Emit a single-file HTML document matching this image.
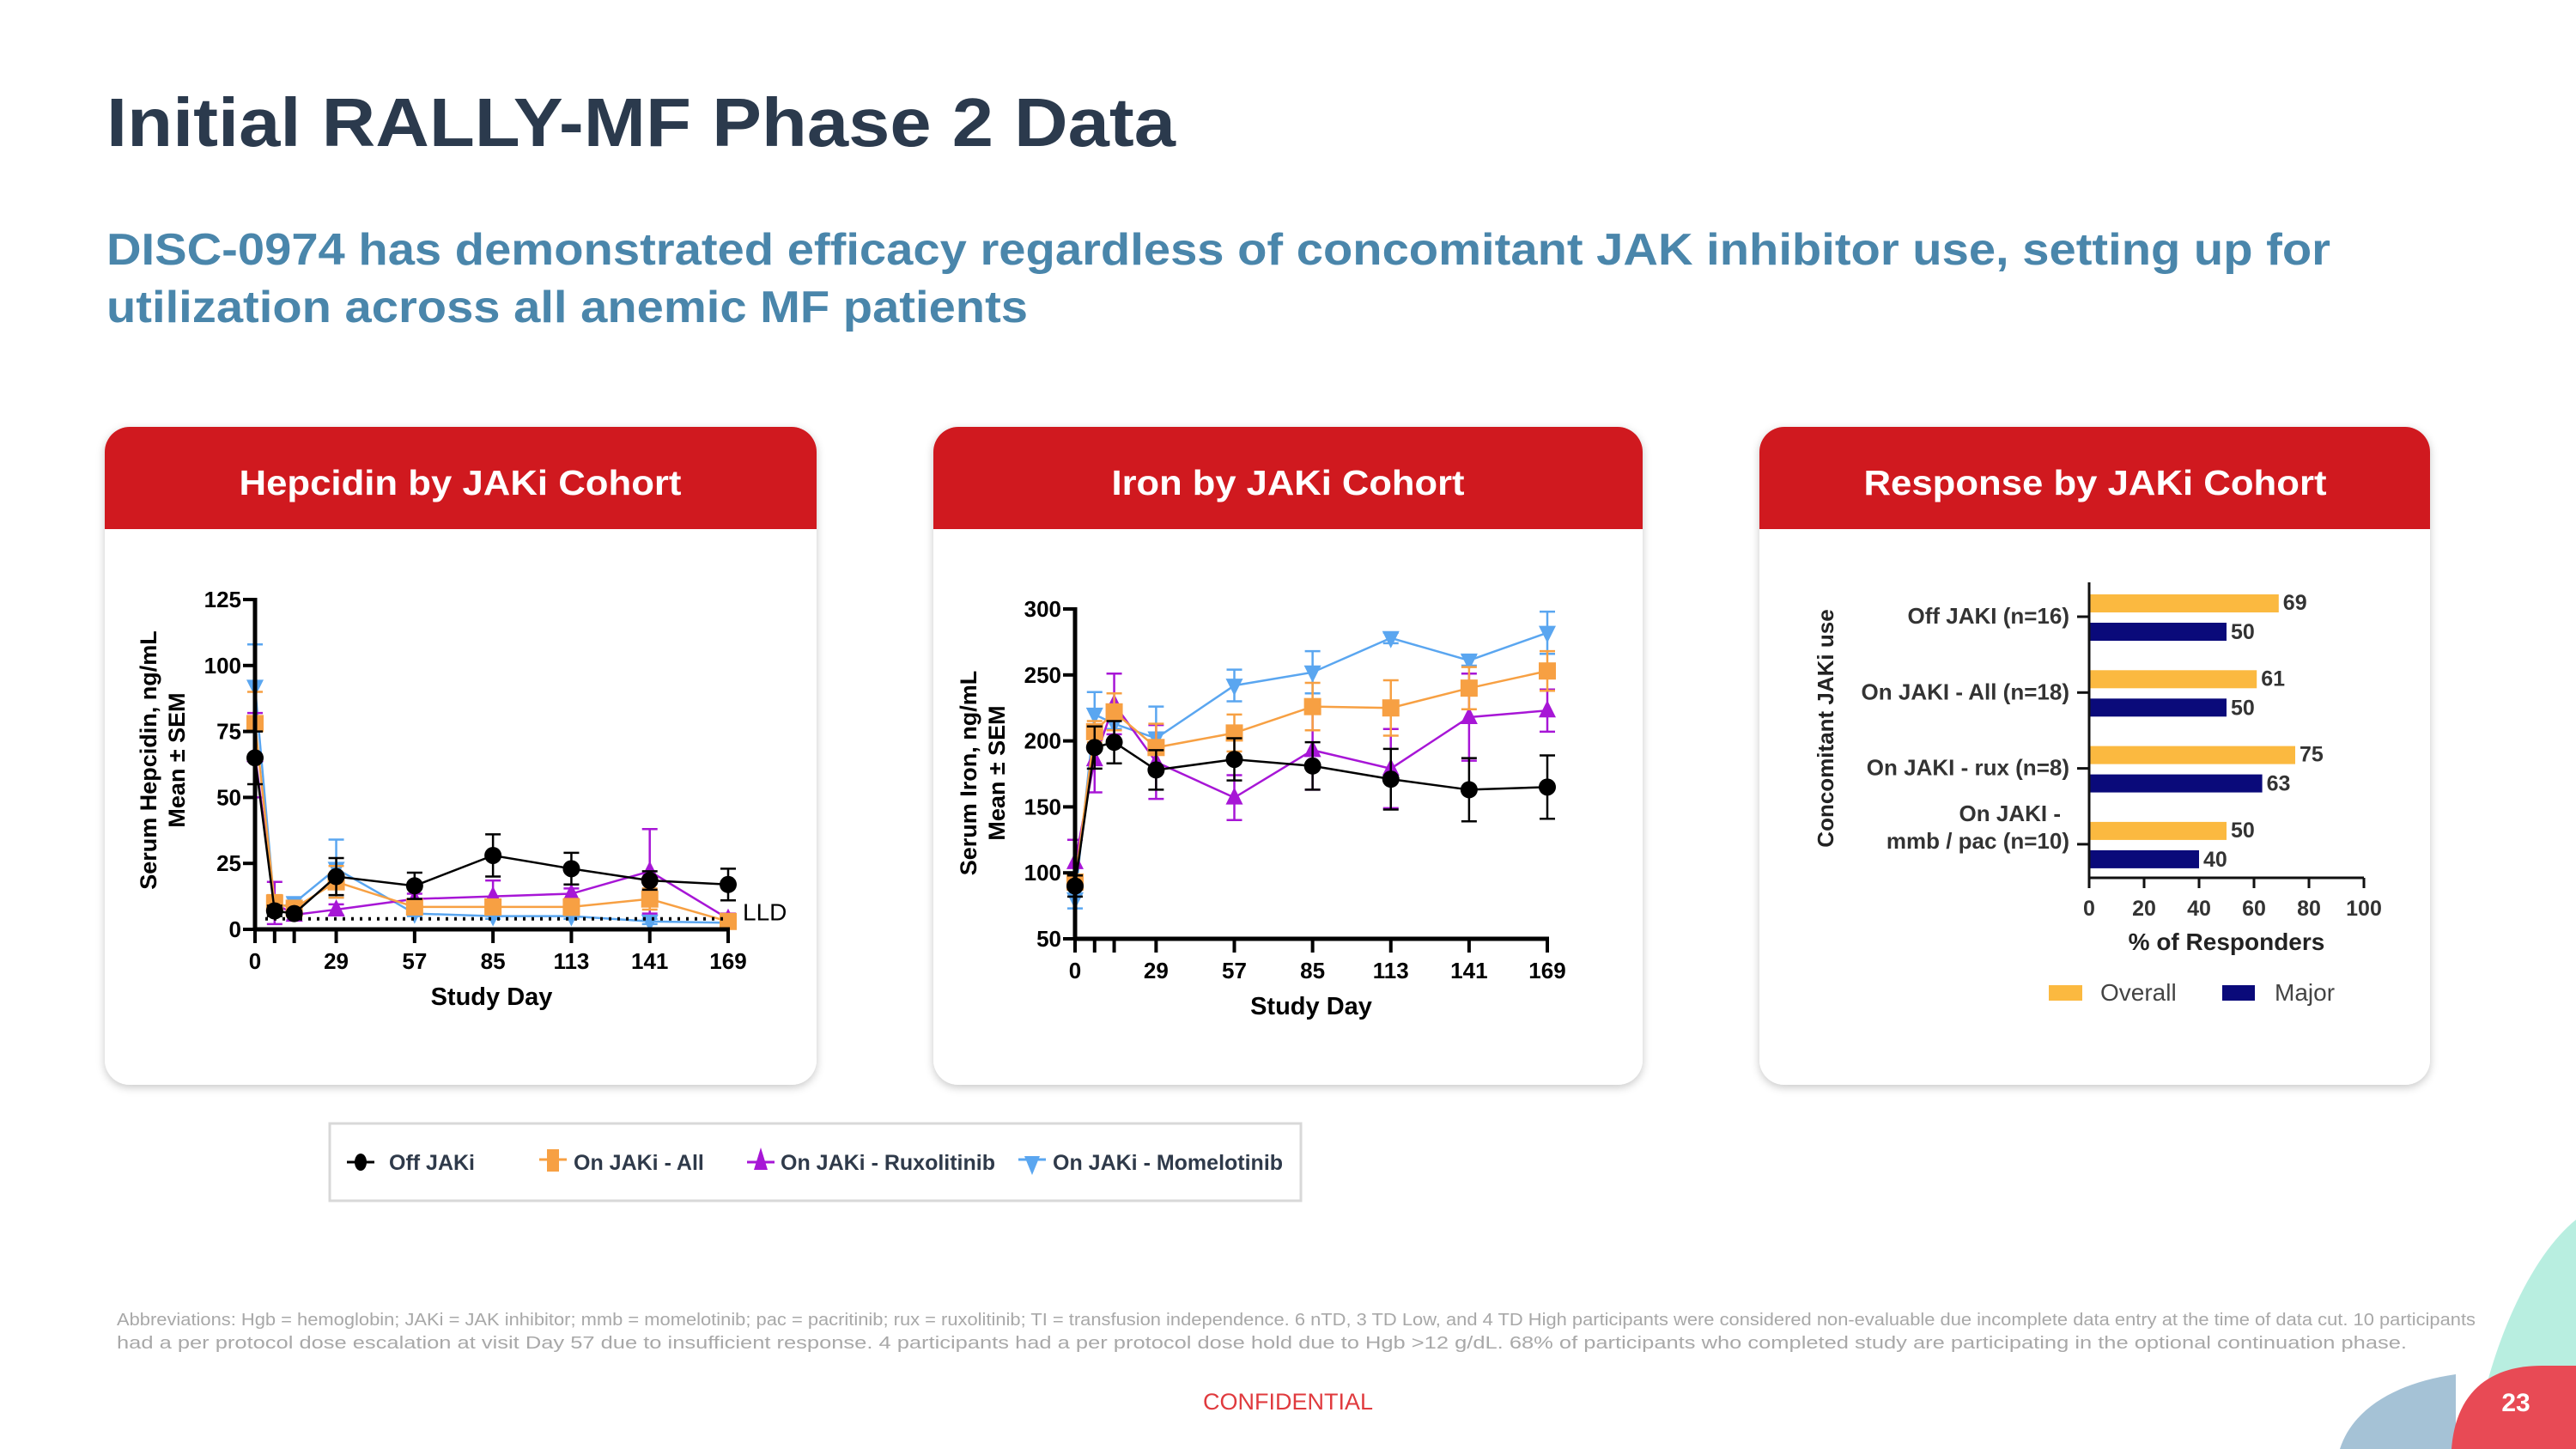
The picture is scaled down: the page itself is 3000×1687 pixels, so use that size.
<!DOCTYPE html>
<html><head><meta charset="utf-8"><style>
html,body{margin:0;padding:0;background:#fff}
svg{display:block;font-family:"Liberation Sans",sans-serif}
.n{font-family:"Liberation Sans Narrow","Liberation Sans",sans-serif;font-weight:bold}
</style></head><body>
<svg id="s" width="3000" height="1687" viewBox="0 0 3000 1687" xmlns="http://www.w3.org/2000/svg">
<defs>
<filter id="sh" x="-5%" y="-5%" width="110%" height="110%"><feDropShadow dx="0" dy="3" stdDeviation="5" flood-color="#000" flood-opacity="0.22"/></filter>
<clipPath id="c1"><rect x="122" y="497" width="829" height="766" rx="29"/></clipPath>
<clipPath id="c2"><rect x="1087" y="497" width="826" height="766" rx="29"/></clipPath>
<clipPath id="c3"><rect x="2049" y="497" width="781" height="766" rx="29"/></clipPath>
</defs>
<text x="124" y="170" font-size="80" font-weight="bold" fill="#2b3a4d" textLength="1245" lengthAdjust="spacingAndGlyphs">Initial RALLY-MF Phase 2 Data</text>
<text font-size="52" font-weight="bold" fill="#4a86ab"><tspan x="124" y="308" textLength="2590" lengthAdjust="spacingAndGlyphs">DISC-0974 has demonstrated efficacy regardless of concomitant JAK inhibitor use, setting up for</tspan><tspan x="124" y="375" textLength="1073" lengthAdjust="spacingAndGlyphs">utilization across all anemic MF patients</tspan></text>

<g>
<rect x="122" y="497" width="829" height="766" rx="29" fill="#fff" filter="url(#sh)"/>
<rect clip-path="url(#c1)" x="122" y="497" width="829" height="119" fill="#d0191f"/>
<text x="536" y="576" text-anchor="middle" font-size="41" font-weight="bold" fill="#fff" textLength="515" lengthAdjust="spacingAndGlyphs">Hepcidin by JAKi Cohort</text>
</g>
<g>
<rect x="1087" y="497" width="826" height="766" rx="29" fill="#fff" filter="url(#sh)"/>
<rect clip-path="url(#c2)" x="1087" y="497" width="826" height="119" fill="#d0191f"/>
<text x="1500" y="576" text-anchor="middle" font-size="41" font-weight="bold" fill="#fff" textLength="411" lengthAdjust="spacingAndGlyphs">Iron by JAKi Cohort</text>
</g>
<g>
<rect x="2049" y="497" width="781" height="766" rx="29" fill="#fff" filter="url(#sh)"/>
<rect clip-path="url(#c3)" x="2049" y="497" width="781" height="119" fill="#d0191f"/>
<text x="2440" y="576" text-anchor="middle" font-size="41" font-weight="bold" fill="#fff" textLength="539" lengthAdjust="spacingAndGlyphs">Response by JAKi Cohort</text>
</g>

<g id="hep"></g>
<g id="iron"></g>
<g id="resp"></g>

<g>
<rect x="384" y="1308" width="1131" height="90" fill="#fff" stroke="#d8d8d8" stroke-width="3"/>
<g><line x1="404" y1="1353" x2="436" y2="1353" stroke="#000" stroke-width="3"/><ellipse cx="420" cy="1353" rx="7" ry="10" fill="#000"/><text x="453" y="1362" font-size="25" font-weight="bold" fill="#2f3a4a">Off JAKi</text></g>
<g><line x1="628" y1="1350" x2="660" y2="1350" stroke="#f7a043" stroke-width="3"/><rect x="637" y="1338" width="14" height="26" fill="#f7a043"/><text x="668" y="1362" font-size="25" font-weight="bold" fill="#2f3a4a">On JAKi - All</text></g>
<g><line x1="870" y1="1353" x2="902" y2="1353" stroke="#a716d6" stroke-width="3"/><polygon points="886,1336 894,1362 878,1362" fill="#a716d6"/><text x="909" y="1362" font-size="25" font-weight="bold" fill="#2f3a4a">On JAKi - Ruxolitinib</text></g>
<g><line x1="1186" y1="1350" x2="1218" y2="1350" stroke="#5aa6f0" stroke-width="3"/><polygon points="1193,1346 1211,1346 1202,1368" fill="#5aa6f0"/><text x="1226" y="1362" font-size="25" font-weight="bold" fill="#2f3a4a">On JAKi - Momelotinib</text></g>
</g>

<text font-size="20" fill="#a8a8a8"><tspan x="136" y="1543" textLength="2747" lengthAdjust="spacingAndGlyphs">Abbreviations: Hgb = hemoglobin; JAKi = JAK inhibitor; mmb = momelotinib; pac = pacritinib; rux = ruxolitinib; TI = transfusion independence. 6 nTD, 3 TD Low, and 4 TD High participants were considered non-evaluable due incomplete data entry at the time of data cut. 10 participants</tspan><tspan x="136" y="1570" textLength="2667" lengthAdjust="spacingAndGlyphs">had a per protocol dose escalation at visit Day 57 due to insufficient response. 4 participants had a per protocol dose hold due to Hgb &gt;12 g/dL. 68% of participants who completed study are participating in the optional continuation phase.</tspan></text>
<text x="1500" y="1641" text-anchor="middle" font-size="27" fill="#e03a3e">CONFIDENTIAL</text>
<g>
<path d="M2880,1687 C2900,1560 2950,1460 3000,1420 L3000,1687 Z" fill="#a6ead8" opacity="0.8"/>
<path d="M2725,1687 C2740,1640 2790,1610 2860,1600 L2860,1687 Z" fill="#7fa8c4" opacity="0.7"/>
<path d="M2855,1687 C2860,1620 2900,1590 2960,1590 L3000,1590 L3000,1687 Z" fill="#e84a55"/>
</g>
<text x="2930" y="1643" text-anchor="middle" font-size="30" font-weight="bold" fill="#fff">23</text>
</svg>
<script>
const days = [0, 7, 14, 29, 57, 85, 113, 141, 169];
const dayLabels = ["0", "29", "57", "85", "113", "141", "169"];
const dayLabelValues = [0, 29, 57, 85, 113, 141, 169];
const seriesNames = ["Off JAKi", "On JAKi - All", "On JAKi - Ruxolitinib", "On JAKi - Momelotinib"];
// Hepcidin
const hepOff = [65, 7, 6, 20, 16.5, 28, 23, 18.5, 17];
const hepOffErr = [10, 2, 1, 7, 5, 8, 6, 3.5, 6];
const hepAll = [78, 10, 8, 18, 8.5, 8.5, 8.5, 11.5, 3];
const hepAllErr = [12, 3, 2, 6, 2, 2, 3, 4, 1];
const hepRux = [66, 10, 5.5, 7.5, 11.5, 12.5, 13.5, 22, 4];
const hepRuxErr = [16, 8, 2, 2, 2, 6, 2, 16, 2];
const hepMom = [92, 8, 10, 23, 6, 5, 5, 3, 2.5];
const hepMomErr = [16, 2, 2, 11, 1, 1, 1, 1, 1];
const hepTicks = [0, 25, 50, 75, 100, 125];
const hepLLD = 4;
// Iron
const ironOff = [90, 195, 199, 178, 186, 181, 171, 163, 165];
const ironOffErr = [8, 16, 16, 15, 16, 18, 23, 24, 24];
const ironAll = [93, 207, 222, 195, 206, 226, 225, 240, 253];
const ironAllErr = [5, 8, 14, 18, 14, 18, 21, 16, 15];
const ironRux = [108, 186, 228, 184, 157, 193, 179, 218, 223];
const ironRuxErr = [17, 25, 23, 28, 17, 30, 30, 33, 16];
const ironMom = [80, 220, 213, 202, 242, 252, 278, 261, 282];
const ironMomErr = [7, 17, 4, 24, 12, 16, 4, 4, 16];
const ironTicks = [50, 100, 150, 200, 250, 300];
// Response
const respCategories = [["Off JAKI (n=16)"], ["On JAKI - All (n=18)"], ["On JAKI - rux (n=8)"], ["On JAKI -", "mmb / pac (n=10)"]];
const respOverall = [69, 61, 75, 50];
const respMajor = [50, 50, 63, 40];
const respTicks = [0, 20, 40, 60, 80, 100];

const NS = "http://www.w3.org/2000/svg";
function mk(parent, tag, attrs, text) {
  const e = document.createElementNS(NS, tag);
  for (const k in attrs) e.setAttribute(k, attrs[k]);
  if (text !== undefined) e.textContent = text;
  parent.appendChild(e);
  return e;
}
const colors = ["#000000", "#f7a043", "#a716d6", "#5aa6f0"];
const shapes = ["circle", "square", "up", "down"];

function marker(g, shape, x, y, c) {
  let m;
  if (shape === "circle") m = mk(g, "circle", {cx: x, cy: y, r: 10, fill: c});
  else if (shape === "square") m = mk(g, "rect", {x: x - 10, y: y - 10, width: 20, height: 20, fill: c});
  else if (shape === "up") m = mk(g, "polygon", {points: `${x},${y - 12} ${x + 10},${y + 8} ${x - 10},${y + 8}`, fill: c});
  else m = mk(g, "polygon", {points: `${x - 10},${y - 8} ${x + 10},${y - 8} ${x},${y + 12}`, fill: c});
  return m;
}

function lineChart(root, cfg) {
  const X = d => cfg.x0 + (d / 169) * (cfg.x1 - cfg.x0);
  const Y = v => cfg.yb - (v - cfg.ymin) / (cfg.ymax - cfg.ymin) * (cfg.yb - cfg.yt);
  const order = [3, 2, 1, 0];
  order.forEach(si => {
    const vals = cfg.series[si], errs = cfg.errs[si], c = colors[si];
    const g = mk(root, "g", {});
    
    
    const pts = vals.map((v, i) => X(days[i]) + "," + Y(v)).join(" ");
    mk(g, "polyline", {points: pts, fill: "none", stroke: c, "stroke-width": 2.5});
    vals.forEach((v, i) => {
      const x = X(days[i]);
      const lo = Math.max(cfg.ymin, v - errs[i]);
      mk(g, "line", {x1: x, y1: Y(v + errs[i]), x2: x, y2: Y(lo), stroke: c, "stroke-width": 2.5});
      mk(g, "line", {x1: x - 9, y1: Y(v + errs[i]), x2: x + 9, y2: Y(v + errs[i]), stroke: c, "stroke-width": 2.5});
      mk(g, "line", {x1: x - 9, y1: Y(lo), x2: x + 9, y2: Y(lo), stroke: c, "stroke-width": 2.5});
      const m = marker(g, shapes[si], x, Y(v), c);
      
      
    });
  });
  const ax = mk(root, "g", {});
  
  
  mk(ax, "line", {x1: cfg.x0, y1: cfg.yt - 2, x2: cfg.x0, y2: cfg.yb + 2, stroke: "#000", "stroke-width": 5});
  mk(ax, "line", {x1: cfg.x0 - 2, y1: cfg.yb, x2: cfg.x1 + 2, y2: cfg.yb, stroke: "#000", "stroke-width": 5});
  cfg.ticks.forEach(t => {
    mk(ax, "line", {x1: cfg.x0 - 14, y1: Y(t), x2: cfg.x0, y2: Y(t), stroke: "#000", "stroke-width": 4});
    const lab = mk(ax, "text", {x: cfg.x0 - 16, y: Y(t) + 9, "text-anchor": "end", "font-size": 26, class: "n"}, String(t));
    
    
  });
  days.forEach(d => {
    mk(ax, "line", {x1: X(d), y1: cfg.yb, x2: X(d), y2: cfg.yb + 16, stroke: "#000", "stroke-width": 4});
  });
  dayLabels.forEach((l, i) => {
    const lab = mk(ax, "text", {x: X(dayLabelValues[i]), y: cfg.yb + 46, "text-anchor": "middle", "font-size": 26, class: "n"}, l);
    
    
  });
  const xt = mk(ax, "text", {x: (cfg.x0 + cfg.x1) / 2, y: cfg.yb + 88, "text-anchor": "middle", "font-size": 29, class: "n"}, "Study Day");
  
  
  const yt = mk(ax, "text", {transform: `translate(${cfg.ytx},${cfg.yty}) rotate(-90)`, "text-anchor": "middle", "font-size": 27, "font-weight": "bold"});
  
  
  mk(yt, "tspan", {x: 0, y: 0}, cfg.ytitle[0]);
  mk(yt, "tspan", {x: 0, y: 33}, cfg.ytitle[1]);
  return {X, Y};
}

const hepRoot = document.getElementById("hep");
const h = lineChart(hepRoot, {x0: 297, x1: 848, yt: 698, yb: 1082, ymin: 0, ymax: 125, ticks: hepTicks,
  series: [hepOff, hepAll, hepRux, hepMom], errs: [hepOffErr, hepAllErr, hepRuxErr, hepMomErr],
  ytx: 182, yty: 885, ytitle: ["Serum Hepcidin, ng/mL", "Mean ± SEM"]});
const lld = mk(hepRoot, "line", {x1: h.X(days[0]) + 12, y1: h.Y(hepLLD), x2: h.X(169), y2: h.Y(hepLLD), stroke: "#000", "stroke-width": 4, "stroke-dasharray": "3,7"});


const lldT = mk(hepRoot, "text", {x: 865, y: h.Y(hepLLD) + 2, "font-size": 28}, "LLD");



lineChart(document.getElementById("iron"), {x0: 1252, x1: 1802, yt: 709, yb: 1093, ymin: 50, ymax: 300, ticks: ironTicks,
  series: [ironOff, ironAll, ironRux, ironMom], errs: [ironOffErr, ironAllErr, ironRuxErr, ironMomErr],
  ytx: 1137, yty: 900, ytitle: ["Serum Iron, ng/mL", "Mean ± SEM"]});

(function () {
  const r = document.getElementById("resp");
  const x0 = 2433, x1 = 2753, yt = 678, yb = 1022;
  const XB = v => x0 + v / 100 * (x1 - x0);
  const catY = i => 718 + i * 88.3;
  respCategories.forEach((lines, i) => {
    const cy = catY(i);
    const b1 = mk(r, "rect", {x: x0, y: cy - 26, width: XB(respOverall[i]) - x0, height: 21, fill: "#fbb940"});
    
    
    const b2 = mk(r, "rect", {x: x0, y: cy + 7, width: XB(respMajor[i]) - x0, height: 21, fill: "#0a0a7a"});
    
    
    const v1 = mk(r, "text", {x: XB(respOverall[i]) + 5, y: cy - 8, "font-size": 25, class: "n", fill: "#333"}, String(respOverall[i]));
    
    
    const v2 = mk(r, "text", {x: XB(respMajor[i]) + 5, y: cy + 26, "font-size": 25, class: "n", fill: "#333"}, String(respMajor[i]));
    
    
    mk(r, "line", {x1: x0 - 14, y1: cy, x2: x0, y2: cy, stroke: "#111", "stroke-width": 3});
    const t = mk(r, "text", {"text-anchor": "end", "font-size": 26, fill: "#333", "font-weight": "bold"});
    
    
    if (lines.length === 1) mk(t, "tspan", {x: 2410, y: cy + 8}, lines[0]);
    else { mk(t, "tspan", {x: 2400, y: cy - 27}, lines[0]); mk(t, "tspan", {x: 2410, y: cy + 5}, lines[1]); }
  });
  mk(r, "line", {x1: x0, y1: yt, x2: x0, y2: yb + 12, stroke: "#111", "stroke-width": 3});
  mk(r, "line", {x1: x0, y1: yb, x2: x1, y2: yb, stroke: "#111", "stroke-width": 3});
  respTicks.forEach(t => {
    mk(r, "line", {x1: XB(t), y1: yb, x2: XB(t), y2: yb + 12, stroke: "#111", "stroke-width": 3});
    const l = mk(r, "text", {x: XB(t), y: yb + 44, "text-anchor": "middle", "font-size": 25, fill: "#333", "font-weight": "bold"}, String(t));
    
    
  });
  const xt = mk(r, "text", {x: 2593, y: 1106, "text-anchor": "middle", "font-size": 28, "font-weight": "bold", fill: "#222"}, "% of Responders");
  
  
  const yt2 = mk(r, "text", {transform: "translate(2135,848) rotate(-90)", "text-anchor": "middle", "font-size": 26, "font-weight": "bold", fill: "#222"}, "Concomitant JAKi use");
  
  
  const lg1 = mk(r, "rect", {x: 2386, y: 1147, width: 39, height: 18, fill: "#fbb940"});
  
  
  mk(r, "text", {x: 2446, y: 1165, "font-size": 28, fill: "#444"}, "Overall");
  const lg2 = mk(r, "rect", {x: 2588, y: 1147, width: 38, height: 18, fill: "#0a0a7a"});
  
  
  mk(r, "text", {x: 2649, y: 1165, "font-size": 28, fill: "#444"}, "Major");
})();
</script>
</body></html>
